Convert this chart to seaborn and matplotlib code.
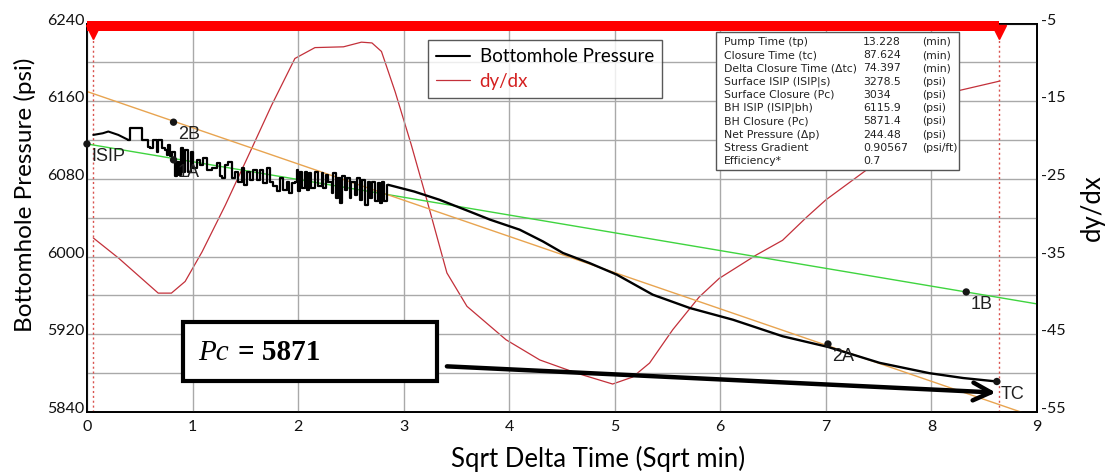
import numpy as np
import pandas as pd
import matplotlib
matplotlib.use("Agg")
import matplotlib.pyplot as plt
import matplotlib.transforms as mtransforms
from matplotlib.patches import Rectangle
from matplotlib.offsetbox import TextArea, HPacker, AnnotationBbox
import seaborn as sns

# ---------------------------------------------------------------- data
# early smooth hump of bottomhole pressure (sqrt min, psi)
hump_t = [0.060, 0.150, 0.202, 0.297, 0.391]
hump_p = [6125.3, 6127.0, 6128.8, 6125.3, 6120.2]

# noisy gauge section (step data)
noisy_t = [0.391, 0.407, 0.518, 0.581, 0.597, 0.628, 0.660, 0.676, 0.707, 0.739,
           0.754, 0.770, 0.786, 0.808, 0.833, 0.849, 0.871, 0.890, 0.912, 0.928,
           0.960, 0.985, 1.007, 1.039, 1.070, 1.102, 1.133, 1.181, 1.228, 1.259,
           1.282, 1.307, 1.338, 1.370, 1.402, 1.433, 1.465, 1.490, 1.512, 1.544,
           1.575, 1.607, 1.638, 1.670, 1.701, 1.733, 1.765, 1.796, 1.828, 1.859,
           1.891, 1.913, 1.938, 1.970, 1.992, 2.001, 2.017, 2.033, 2.064, 2.080,
           2.102, 2.127, 2.159, 2.191, 2.222, 2.238, 2.260, 2.285, 2.317, 2.333,
           2.355, 2.374, 2.396, 2.418, 2.443, 2.468, 2.491, 2.506, 2.538, 2.554,
           2.585, 2.607, 2.633, 2.658, 2.680, 2.702, 2.727, 2.753, 2.775, 2.797,
           2.816, 2.838, 2.854]
noisy_p = [6120.2, 6132.9, 6120.2, 6113.3, 6111.6, 6120.2, 6108.2, 6120.2, 6111.6, 6109.9,
           6104.8, 6115.0, 6103.1, 6108.2, 6082.5, 6097.9, 6084.2, 6111.6, 6087.6, 6109.9,
           6087.6, 6108.2, 6091.1, 6099.6, 6094.5, 6101.3, 6089.3, 6091.1, 6096.2, 6082.5,
           6080.8, 6094.5, 6097.9, 6080.8, 6087.6, 6077.3, 6091.1, 6073.9, 6087.6, 6079.0,
           6089.3, 6079.0, 6089.3, 6075.6, 6091.1, 6077.3, 6072.2, 6067.1, 6080.8, 6068.8,
           6077.3, 6065.3, 6075.6, 6077.3, 6089.3, 6067.1, 6087.6, 6070.5, 6087.6, 6068.8,
           6085.9, 6070.5, 6087.6, 6072.2, 6085.9, 6070.5, 6084.2, 6077.3, 6065.3, 6085.9,
           6060.2, 6080.8, 6055.1, 6082.5, 6068.8, 6080.8, 6060.2, 6077.3, 6063.6, 6080.8,
           6058.5, 6079.0, 6053.4, 6077.3, 6060.2, 6077.3, 6056.8, 6075.6, 6055.1, 6077.3,
           6056.8, 6074.0, 6073.9]

# smooth decline to closure
smooth_t = [2.854, 3.10, 3.34, 3.60, 3.82, 4.10, 4.32, 4.51, 4.76, 5.02,
            5.36, 5.71, 6.12, 6.59, 7.02, 7.51, 7.98, 8.30, 8.62]
smooth_p = [6073.9, 6067.0, 6058.5, 6047.5, 6038.0, 6027.7, 6015.6, 6003.7, 5993.4, 5981.4,
            5960.8, 5947.1, 5935.0, 5918.0, 5907.0, 5890.6, 5880.0, 5875.0, 5871.4]

# derivative dy/dx (right axis)
deriv_t = [0.06, 0.30, 0.675, 0.80, 0.93, 1.09, 1.31, 1.56, 1.75, 1.97,
           2.16, 2.43, 2.60, 2.70, 2.79, 2.92, 3.07, 3.22, 3.41, 3.60,
           3.97, 4.29, 4.64, 4.98, 5.17, 5.33, 5.55, 5.80, 5.99, 6.34,
           6.59, 6.82, 7.00, 7.41, 8.27, 8.65]
deriv_v = [-32.6, -35.2, -39.7, -39.7, -38.2, -34.4, -28.4, -21.1, -15.5, -9.5,
           -8.1, -8.0, -7.4, -7.5, -8.6, -13.8, -20.5, -27.7, -37.1, -41.4,
           -45.7, -48.3, -50.0, -51.4, -50.5, -48.7, -44.4, -40.2, -37.8, -34.8,
           -32.9, -29.9, -27.7, -23.6, -13.6, -12.4]

# picked points
pick_names = ["ISIP", "2B", "1A", "1B", "2A", "TC"]
pick_t = [0.0, 0.82, 0.82, 8.33, 7.02, 8.62]
pick_p = [6116.0, 6138.4, 6099.6, 5963.6, 5910.0, 5871.4]

# straight-line fits
fit1_t = [0.0, 9.0]
fit1_p = [6116.0, 5951.3]
fit2_t = [0.0, 9.0]
fit2_p = [6170.0, 5834.3]

# analysis window (start / closure)
window_t = [0.06, 8.64]

# summary table
param_names = ["Pump Time (tp)", "Closure Time (tc)", "Delta Closure Time (\u0394tc)",
               "Surface ISIP (ISIP|s)", "Surface Closure (Pc)", "BH ISIP (ISIP|bh)",
               "BH Closure (Pc)", "Net Pressure (\u0394p)", "Stress Gradient", "Efficiency*"]
param_values = ["13.228", "87.624", "74.397", "3278.5", "3034", "6115.9",
                "5871.4", "244.48", "0.90567", "0.7"]
param_units = ["(min)", "(min)", "(min)", "(psi)", "(psi)", "(psi)",
               "(psi)", "(psi)", "(psi/ft)", ""]

closure_value = 5871

# ---------------------------------------------------------------- style
sns.set_style("white")
plt.rcParams["font.family"] = ["Lato", "DejaVu Sans"]
plt.rcParams["axes.unicode_minus"] = False
plt.rcParams["text.color"] = "black"
plt.rcParams["axes.labelcolor"] = "black"

BLACK = "#000000"
RED = "#c3303a"
GREEN = "#3fd43f"
ORANGE = "#e8a450"
GRID = "#a9a9a9"

fig = plt.figure(figsize=(11.15, 4.74), dpi=100)
ax = fig.add_axes([0.078, 0.1308, 0.852, 0.8196])
ax2 = ax.twinx()
ax.set_zorder(ax2.get_zorder() + 1)
ax.patch.set_visible(False)

# derivative curve on the right axis
deriv_df = pd.DataFrame({"t": deriv_t, "v": deriv_v})
sns.lineplot(data=deriv_df, x="t", y="v", ax=ax2, color=RED, lw=0.9,
             estimator=None, sort=False, label="dy/dx", legend=False)

# fit lines
sns.lineplot(x=fit1_t, y=fit1_p, ax=ax, color=GREEN, lw=1.0, estimator=None, legend=False)
sns.lineplot(x=fit2_t, y=fit2_p, ax=ax, color=ORANGE, lw=1.0, estimator=None, legend=False)

# bottomhole pressure
sns.lineplot(x=hump_t, y=hump_p, ax=ax, color=BLACK, lw=1.5, estimator=None, legend=False)
sns.lineplot(x=noisy_t, y=noisy_p, ax=ax, color=BLACK, lw=1.6, estimator=None,
             drawstyle="steps-post", legend=False)
sns.lineplot(x=smooth_t, y=smooth_p, ax=ax, color=BLACK, lw=1.7, estimator=None, legend=False)

# picked points with labels
sns.scatterplot(x=pick_t, y=pick_p, ax=ax, color="#151515", s=28, zorder=6,
                edgecolor="none", clip_on=False, legend=False)
for name, t, p in zip(pick_names, pick_t, pick_p):
    ax.annotate(name, (t, p), xytext=(3, -3), textcoords="offset points",
                ha="left", va="top", fontsize=13, color="#202020",
                family=["Liberation Sans", "DejaVu Sans"], zorder=6)

# analysis window markers
for t in window_t:
    ax.axvline(t, color="#d9534f", lw=1.0, ls=(0, (1.5, 2.0)), zorder=1)
ax.fill_between([0.0, window_t[1]], 6232.0, 6243.0, color="#ff0000", lw=0, zorder=7, clip_on=False)
ax.plot(window_t, [6231.0, 6231.0], ls="none", marker="v", ms=10, color="#ff0000",
        zorder=7, clip_on=False)

# axes
ax.set_xlim(0, 9)
ax.set_ylim(5840, 6240)
ax2.set_ylim(-55, -5)
ax.set_xticks(range(0, 10))
ax.set_yticks(np.arange(5840, 6241, 80))
ax.set_yticks(np.arange(5880, 6240, 80), minor=True)
ax2.set_yticks(np.arange(-55, -4, 10))
ax.grid(True, which="both", axis="y", color=GRID, lw=1.0)
ax.grid(True, which="major", axis="x", color=GRID, lw=1.0)
ax.set_axisbelow(True)
for a in (ax, ax2):
    for s in a.spines.values():
        s.set_color(BLACK)
        s.set_linewidth(1.3)
ax.tick_params(axis="both", which="both", length=0, labelsize=11.5, colors="#111111")
ax.tick_params(axis="x", pad=6)
ax.tick_params(axis="y", pad=2)
ax2.tick_params(axis="y", length=0, labelsize=11.5, colors="#111111", pad=3)

up = mtransforms.ScaledTranslation(0, 4.5 / 100, fig.dpi_scale_trans)
for lab in ax.get_yticklabels() + ax2.get_yticklabels():
    lab.set_transform(lab.get_transform() + up)

ax.set_xlabel("Sqrt Delta Time (Sqrt min)", fontsize=18.5, color=BLACK)
ax.set_ylabel("Bottomhole Pressure (psi)", fontsize=17.5, color=BLACK)
ax2.set_ylabel("dy/dx", fontsize=18.5, rotation=90, color=BLACK)
ax.xaxis.set_label_coords(0.538, -0.088)
ax.yaxis.set_label_coords(-0.054, 0.56)
ax2.yaxis.set_label_coords(1.045, 0.525)

# legend
h1 = ax.get_lines()[2]
h2 = ax2.get_lines()[0]
leg = ax.legend([h1, h2], ["Bottomhole Pressure", "dy/dx"], loc="upper left",
                bbox_to_anchor=(0.359, 0.958), fontsize=13.5, frameon=True, fancybox=False,
                edgecolor="#303030", handlelength=1.8, handletextpad=0.5,
                borderpad=0.45, labelspacing=0.4, borderaxespad=0)
leg.get_frame().set_linewidth(1.0)
leg.get_texts()[0].set_color(BLACK)
leg.get_texts()[1].set_color("#d42020")
leg.set_zorder(8)

# summary table
ax.add_patch(Rectangle((0.662, 0.623), 0.256, 0.355, transform=ax.transAxes,
                       facecolor="white", edgecolor="#555555", lw=1.0, zorder=8))
tbl_font = dict(fontsize=7.8, color="#222222", family=["DejaVu Sans"],
                va="center", transform=ax.transAxes, zorder=9)
for i, (n, v, u) in enumerate(zip(param_names, param_values, param_units)):
    y = 0.953 - i * 0.0342
    ax.text(0.6705, y, n, ha="left", **tbl_font)
    ax.text(0.8168, y, v, ha="left", **tbl_font)
    ax.text(0.8789, y, u, ha="left", **tbl_font)

# closure pressure call-out
ax.add_patch(Rectangle((0.101, 0.080), 0.267, 0.152, transform=ax.transAxes,
                       facecolor="white", edgecolor=BLACK, lw=3.0, zorder=8))
pc_label = TextArea("Pc", textprops=dict(fontsize=21, style="italic",
                                         family=["Liberation Serif", "DejaVu Serif"], color=BLACK))
pc_value = TextArea(f"= {closure_value}", textprops=dict(fontsize=21, weight="bold",
                                                          family=["Liberation Serif", "DejaVu Serif"],
                                                          color=BLACK))
pack = HPacker(children=[pc_label, pc_value], align="baseline", pad=0, sep=7)
ab = AnnotationBbox(pack, (0.117, 0.152), xycoords="axes fraction", box_alignment=(0, 0.5),
                    frameon=False, zorder=9)
ax.add_artist(ab)
ax.annotate("", xy=(8.61, 5860), xytext=(3.41, 5887),
            arrowprops=dict(arrowstyle="->", lw=3.2, color=BLACK, mutation_scale=32,
                            shrinkA=0, shrinkB=0), zorder=9)

fig.savefig("out.png", dpi=100)
